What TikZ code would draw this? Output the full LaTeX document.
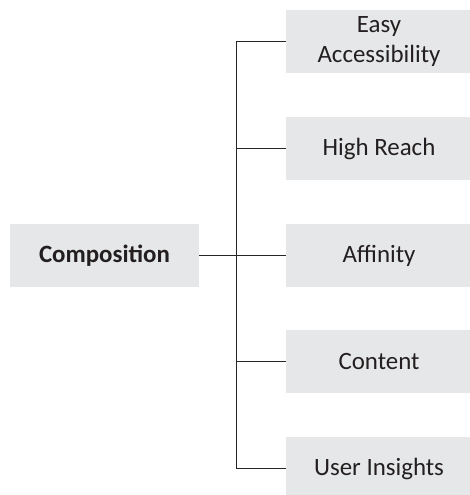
\documentclass[tikz,border=0pt]{standalone}
\usepackage{fontspec}
\setmainfont{Carlito}
\usepackage{tikz}

\definecolor{boxgray}{HTML}{E6E7E8}
\definecolor{textgray}{HTML}{231F20}

\begin{document}
\begin{tikzpicture}[
    x=1bp,y=-1bp,
    item/.style={rectangle,fill=boxgray,draw=none,minimum width=186bp,
      minimum height=63bp,inner sep=0pt,align=center,text=textgray,
      font=\fontsize{25}{30}\selectfont},
    root/.style={item,minimum width=189bp,font=\fontsize{25}{30}\selectfont\bfseries},
    link/.style={line width=0.9bp,black!85}
  ]

    % Canvas
    \useasboundingbox (0,0) rectangle (470,495);
    \clip (0,0) rectangle (470,495);

    % Root on the left
    \node[root] (comp) at (104.5,255.5) {Composition};

    % Five branches on the right
    \node[item] (easy) at (379,41.5) {Easy\\Accessibility};
    \node[item] (reach) at (379,148.5) {High Reach};
    \node[item] (affin) at (379,255.5) {Affinity};
    \node[item] (content) at (379,361.5) {Content};
    \node[item] (insight) at (379,468.5) {User Insights};

    % Trunk
    \coordinate (trunktop) at (236,41.5);
    \coordinate (trunkbot) at (236,468.5);
    \draw[link] (trunktop) -- (trunkbot);

    % Root to the trunk, trunk to the branches
    \draw[link] (comp.east) -- (affin.west);
    \foreach \n in {easy,reach,content,insight}
      \draw[link] (\n.west) -- (\n.west -| trunktop);

  \end{tikzpicture}
\end{document}
